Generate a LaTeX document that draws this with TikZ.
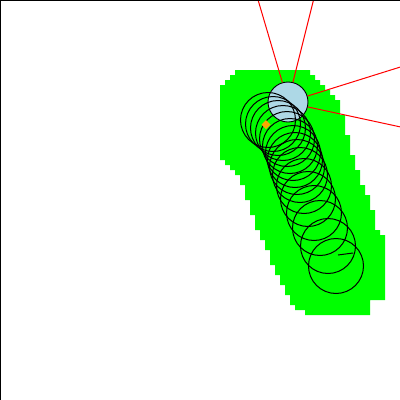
\documentclass[tikz,border=0pt]{standalone}
\usetikzlibrary{shapes.geometric}
\definecolor{zone}{RGB}{0,255,0}
\definecolor{robotblue}{RGB}{173,216,230}
\definecolor{rayred}{RGB}{255,0,0}
\definecolor{markorange}{RGB}{255,165,0}
\tikzset{
  ring/.style={draw=black, line width=1pt},
  ray/.style={draw=rayred, line width=1pt},
  robotbox/.style={circle, draw=black, line width=0.9pt, fill=robotblue, minimum size=40pt, inner sep=0pt},
}
\begin{document}
\begin{tikzpicture}[x=1pt,y=-1pt]
\useasboundingbox (0,0) rectangle (400,400);
\fill[white] (0,0) rectangle (400,400);
\begin{scope}
\clip (0,0) rectangle (400,400);
% green zone
\fill[zone] (235,70) -- (310,70) -- (310,75) -- (315,75) -- (315,80) -- (320,80) -- (320,85) -- (325,85) -- (325,90) -- (330,90) -- (330,95) -- (335,95) -- (335,100) -- (340,100) -- (340,115) -- (345,115) -- (345,135) -- (350,135) -- (350,155) -- (355,155) -- (355,170) -- (360,170) -- (360,185) -- (365,185) -- (365,195) -- (370,195) -- (370,210) -- (375,210) -- (375,230) -- (380,230) -- (380,235) -- (385,235) -- (385,300) -- (370,300) -- (370,315) -- (305,315) -- (305,310) -- (295,310) -- (295,305) -- (290,305) -- (290,295) -- (285,295) -- (285,285) -- (280,285) -- (280,275) -- (275,275) -- (275,265) -- (270,265) -- (270,250) -- (265,250) -- (265,240) -- (260,240) -- (260,230) -- (255,230) -- (255,215) -- (250,215) -- (250,200) -- (245,200) -- (245,185) -- (240,185) -- (240,175) -- (235,175) -- (235,170) -- (230,170) -- (230,165) -- (225,165) -- (225,160) -- (220,160) -- (220,85) -- (225,85) -- (225,80) -- (230,80) -- (230,75) -- (235,75) -- cycle;
% robot and rays
\node[robotbox] (robot) at (288,102) {};
\coordinate (r1) at (250.4,-26);
\coordinate (r2) at (320,-26);
\coordinate (r3) at (410,64);
\coordinate (r4) at (410,129);
\draw[ray] (robot.106) -- (r1);
\draw[ray] (robot.76) -- (r2);
\draw[ray] (robot.17) -- (r3);
\draw[ray] (robot.-14) -- (r4);
% trajectory circles
\foreach \cx/\cy in {268/120, 273/124, 278/128, 283/133, 287/139, 290/146, 293/153, 295/160, 297/167, 300/175, 304/186, 308/199, 314/213, 320/228, 328/246, 336/266}
  \draw[ring] (\cx,\cy) circle[radius=27.5pt];
\coordinate (t1) at (338,255);
\coordinate (t2) at (353,253);
\draw[ring] (t1) -- (t2);
% orange marker
\fill[markorange] (266,120) -- (270.5,124.5) -- (266,129) -- (261.5,124.5) -- cycle;
\end{scope}
% border
\draw[black, line width=1.2pt] (0.6,400) -- (0.6,0.6) -- (400,0.6);
\end{tikzpicture}
\end{document}
